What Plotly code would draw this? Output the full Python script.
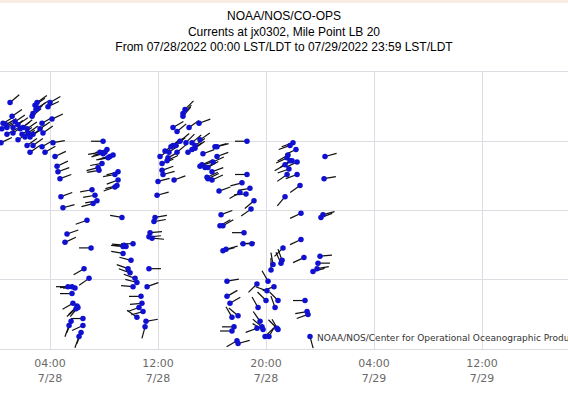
import math
import pandas as pd
import plotly.graph_objects as go

# ---- data (hours after 07/28/2022 00:00 LST/LDT) ----
hours = [
    1.04, 2.89, 3.04, 3.11, 3.85, 4.00, 2.96, 2.74, 1.19, 0.52, 0.74, 1.41, 1.63, 1.26, 0.81,
    0.44, 1.78, 2.00, 2.30, 2.37, 1.93, 2.15, 1.63, 0.81, 1.26, 0.37, 2.67, 3.41, 4.15, 3.26,
    3.48, 2.74, 2.52, 2.30, 2.74, 2.52, 3.41, 3.63, 4.22, 4.37, 4.52, 4.59, 4.74, 4.81, 4.96,
    7.93, 8.22, 8.07, 7.93, 7.70, 8.44, 8.67, 8.30, 7.85, 7.56, 7.63, 9.04, 8.81, 9.04, 8.96,
    8.81, 7.11, 7.33, 7.48, 7.19,
    6.74, 5.26, 5.11, 7.04, 6.52, 6.89, 5.33, 5.63, 5.85, 5.63, 5.70, 6.00, 6.07, 5.93, 5.56,
    5.41, 6.44, 6.44, 6.30, 6.15,
    9.33, 9.48, 9.63, 9.41, 10.15, 9.41, 10.00, 9.78, 9.93, 10.30, 10.44, 10.15, 10.74, 10.81,
    10.59, 10.89, 10.44,
    11.93, 11.78, 11.70, 11.41, 11.33, 11.56, 11.33, 11.19, 11.11, 11.04,
    14.00, 13.85, 13.85, 13.11, 13.41, 14.30, 15.04, 13.63, 14.07, 14.52, 14.74, 15.11, 13.11,
    13.33, 12.96, 12.52, 12.81, 13.41, 14.22, 14.52, 14.74, 12.15, 12.67, 12.30, 12.74, 15.33,
    16.22, 16.37, 16.37, 16.07, 15.11, 15.48, 15.70, 16.00, 12.30, 12.37, 15.63, 15.70, 16.00,
    12.00, 13.19, 15.26,
    18.59, 18.59, 18.22, 18.81, 18.07, 18.52, 19.11, 18.89, 16.52, 16.67, 16.59, 16.81, 18.37,
    16.81, 17.04, 18.30, 18.96,
    22.00, 21.78, 22.22, 21.63, 21.56, 21.93, 22.30, 21.41, 21.78, 21.70, 21.56, 22.30, 22.52,
    21.41, 24.37, 24.30, 22.59, 24.22, 24.07,
    22.59, 21.26, 22.81, 24.00, 23.85, 23.78, 23.48, 20.52, 21.19, 21.11, 20.37, 20.15, 20.59,
    20.07, 20.00, 20.89, 20.67, 19.33, 19.41, 19.56, 19.70, 19.33, 19.78, 20.81, 20.89, 19.93,
    20.22, 22.89, 23.04, 23.11, 23.26,
    17.11, 17.11, 17.33, 17.48, 17.93, 17.63, 17.48, 17.85, 17.93,
]

speed_kn = [
    1.78, 1.76, 1.78, 1.74, 1.75, 1.78, 1.73, 1.70, 1.68, 1.63, 1.62, 1.64, 1.62, 1.60, 1.60,
    1.59, 1.59, 1.60, 1.59, 1.56, 1.55, 1.53, 1.51, 1.55, 1.56, 1.49, 1.68, 1.63, 1.66, 1.59,
    1.56, 1.55, 1.53, 1.47, 1.47, 1.42, 1.46, 1.42, 1.49, 1.39, 1.32, 1.28, 1.23, 1.10, 1.02,
    1.50, 1.44, 1.42, 1.41, 1.42, 1.39, 1.40, 1.38, 1.34, 1.31, 1.29, 1.28, 1.26, 1.22, 1.18,
    1.17, 1.15, 1.11, 1.07, 1.05,
    0.93, 0.83, 0.77, 0.73, 0.58, 0.51, 0.45, 0.45, 0.44, 0.40, 0.33, 0.31, 0.30, 0.29, 0.20,
    0.17, 0.22, 0.17, 0.12, 0.09,
    0.95, 0.75, 0.74, 0.74, 0.76, 0.69, 0.64, 0.58, 0.55, 0.51, 0.48, 0.45, 0.38, 0.33,
    0.30, 0.27, 0.23,
    1.11, 0.95, 0.92, 0.84, 0.81, 0.80, 0.58, 0.45, 0.20, 0.16,
    1.73, 1.70, 1.68, 1.60, 1.57, 1.60, 1.63, 1.50, 1.49, 1.49, 1.47, 1.51, 1.47,
    1.47, 1.46, 1.43, 1.42, 1.42, 1.42, 1.44, 1.45, 1.39, 1.36, 1.34, 1.38, 1.41,
    1.46, 1.46, 1.39, 1.35, 1.32, 1.31, 1.31, 1.28, 1.29, 1.26, 1.24, 1.23, 1.22,
    1.21, 1.22, 1.33,
    1.50, 1.26, 1.20, 1.16, 1.13, 1.12, 1.07, 1.01, 1.14, 0.97, 0.89, 0.89, 0.84,
    0.71, 0.72, 0.76, 0.76,
    1.49, 1.47, 1.44, 1.40, 1.38, 1.36, 1.35, 1.33, 1.36, 1.30, 1.26, 1.26, 1.18,
    1.10, 1.39, 1.23, 0.98, 0.97, 0.95,
    0.79, 0.73, 0.66, 0.67, 0.62, 0.58, 0.56, 0.61, 0.64, 0.62, 0.57, 0.49, 0.45,
    0.42, 0.35, 0.35, 0.30, 0.47, 0.30, 0.20, 0.16, 0.15, 0.14, 0.15, 0.14, 0.09,
    0.09, 0.35, 0.27, 0.25, 0.09,
    0.49, 0.38, 0.33, 0.23, 0.24, 0.16, 0.13, 0.06, 0.04,
]

direction_deg = [  # compass direction of the current (degrees true)
    50, 55, 55, 55, 65, 60, 55, 50, 55, 60, 60, 55, 55, 55, 60,
    60, 55, 50, 55, 55, 55, 55, 55, 60, 55, 65, 50, 60, 65, 55,
    55, 55, 55, 55, 55, 55, 60, 60, 80, 65, 65, 70, 70, 70, 75,
    270, 255, 255, 255, 260, 255, 255, 260, 260, 255, 260, 255, 260, 250, 255,
    250, 260, 260, 260, 255,
    250, 70, 65, 270, 240, 235, 270, 265, 270, 270, 240, 225, 220, 230, 200,
    200, 270, 245, 200, 200,
    280, 275, 275, 275, 270, 280, 285, 290, 290, 290, 285, 275, 270, 265,
    250, 255, 305,
    75, 80, 80, 85, 85, 95, 90, 70, 80, 195,
    45, 45, 40, 60, 50, 55, 70, 50, 45, 50, 55, 55, 55,
    50, 50, 55, 55, 50, 55, 55, 55, 55, 65, 70, 60, 70,
    75, 75, 70, 65, 70, 65, 60, 70, 70, 75, 65, 65, 65,
    75, 70, 65,
    270, 270, 255, 260, 240, 265, 230, 235, 70, 70, 60, 60, 270,
    75, 75, 85, 270,
    250, 250, 245, 240, 245, 240, 245, 240, 235, 250, 235, 250, 235,
    220, 75, 80, 245, 75, 70,
    245, 225, 245, 85, 90, 80, 75, 350, 340, 335, 0, 330, 250,
    290, 315, 315, 340, 225, 330, 325, 310, 250, 300, 315, 330, 45,
    30, 270, 260, 250, 165,
    80, 60, 60, 330, 310, 270, 270, 240, 75,
]

title_lines = [
    "NOAA/NOS/CO-OPS",
    "Currents at jx0302, Mile Point LB 20",
    "From 07/28/2022 00:00 LST/LDT to 07/29/2022 23:59 LST/LDT",
]
credit = "NOAA/NOS/Center for Operational Oceanographic Products and Services"

# ---- layout geometry ----
W, H = 568, 398
M_L, M_R, M_T, M_B = 0, 0, 72, 49
start = pd.Timestamp("2022-07-28 00:00")
x_range_h = (0.296, 42.37)
y_range = (0.0, 2.0)
stick_px = 12.0

px_per_h = (W - M_L - M_R) / (x_range_h[1] - x_range_h[0])
px_per_kn = (H - M_T - M_B) / (y_range[1] - y_range[0])

times = [start + pd.Timedelta(hours=h) for h in hours]

sx, sy = [], []
for h, v, d in zip(hours, speed_kn, direction_deg):
    r = math.radians(d)
    dh = stick_px * math.sin(r) / px_per_h
    dv = stick_px * math.cos(r) / px_per_kn
    sx += [start + pd.Timedelta(hours=h), start + pd.Timedelta(hours=h + dh), None]
    sy += [v, v + dv, None]

fig = go.Figure()
fig.add_trace(go.Scatter(x=sx, y=sy, mode="lines",
                         line=dict(color="#111111", width=1.2),
                         hoverinfo="skip", showlegend=False))
fig.add_trace(go.Scatter(x=times, y=speed_kn, mode="markers",
                         marker=dict(color="#1010d0", size=5.5),
                         showlegend=False))

grid = "#dcdde3"
fig.update_layout(
    width=W, height=H,
    margin=dict(l=M_L, r=M_R, t=M_T, b=M_B, pad=0),
    paper_bgcolor="white", plot_bgcolor="white",
    title=dict(text="<br>".join(title_lines), x=0.5, xanchor="center",
               y=1 - 20 / H, yanchor="top", yref="container",
               font=dict(family="Liberation Sans, Arial", size=12, color="#000000")),
    xaxis=dict(type="date",
               range=[start + pd.Timedelta(hours=x_range_h[0]),
                      start + pd.Timedelta(hours=x_range_h[1])],
               tick0="2022-07-28 04:00", dtick=8 * 3600 * 1000,
               tickformat="%H:%M<br>%-m/%d",
               tickfont=dict(family="DejaVu Sans", size=11, color="#6a6a6a"),
               ticklabelstandoff=4,
               showgrid=True, gridcolor=grid, gridwidth=1,
               showline=True, linecolor=grid, mirror=True,
               zeroline=False, ticks=""),
    yaxis=dict(range=list(y_range), dtick=0.5, showticklabels=False,
               showgrid=True, gridcolor=grid, zeroline=False, showline=False),
    shapes=[dict(type="rect", xref="paper", yref="paper",
                 x0=0, x1=1, y0=(H - M_B - 3) / (H - M_T - M_B), y1=(H - M_B) / (H - M_T - M_B),
                 fillcolor="#fbece3", line=dict(width=0), layer="below")],
    annotations=[dict(text=credit, xref="paper", yref="paper",
                      x=315 / W, y=11 / (H - M_T - M_B), xanchor="left", yanchor="middle",
                      showarrow=False,
                      font=dict(family="DejaVu Sans", size=9, color="#333333"))],
)

fig.write_html("out.html", config={"displayModeBar": False},
               post_script="document.body.style.margin='0';document.body.style.overflow='hidden';")
